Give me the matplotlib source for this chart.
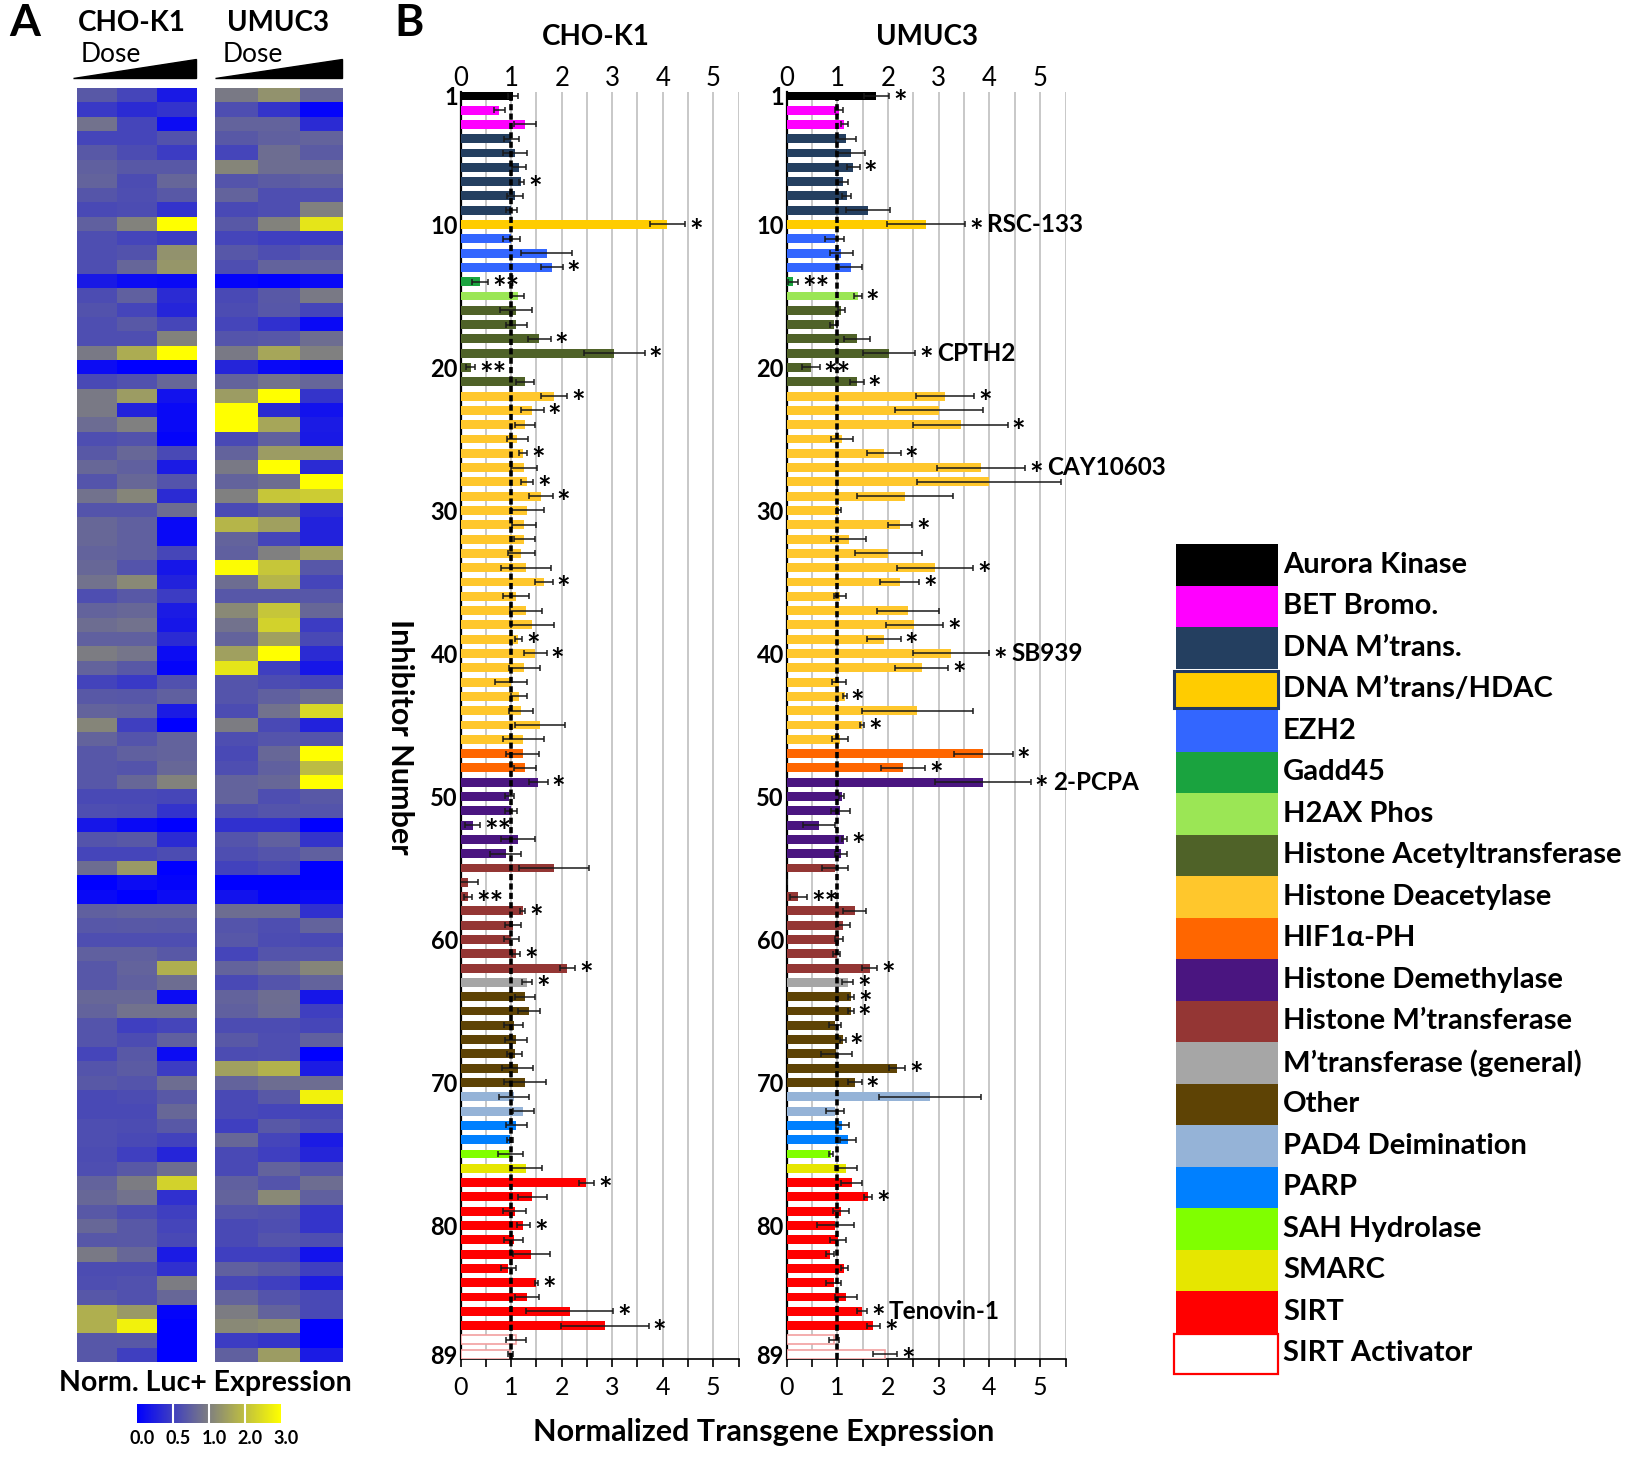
import matplotlib

matplotlib.use("Agg")
import matplotlib.pyplot as plt  # noqa: E402
import numpy as np  # noqa: E402
from matplotlib.colors import LinearSegmentedColormap, Normalize  # noqa: E402
from matplotlib.patches import Polygon, Rectangle  # noqa: E402

plt.rcParams["font.family"] = ["Lato", "DejaVu Sans"]

W, H = 1651, 1457

# ---- inhibitor classes (rows are grouped by class, in legend order) ----
class_names = ["Aurora Kinase", "BET Bromo.", "DNA M’trans.", "DNA M’trans/HDAC", "EZH2",
               "Gadd45", "H2AX Phos", "Histone Acetyltransferase", "Histone Deacetylase",
               "HIF1α-PH", "Histone Demethylase", "Histone M’transferase",
               "M’transferase (general)", "Other", "PAD4 Deimination", "PARP",
               "SAH Hydrolase", "SMARC", "SIRT", "SIRT Activator"]
class_counts = [1, 2, 6, 1, 3, 1, 1, 6, 25, 2, 6, 8, 1, 7, 2, 2, 1, 1, 11, 2]
class_colors = ["#000000", "#FF00FF", "#243F60", "#FFCC00", "#3366FF", "#1AA33F", "#9BE655",
                "#4F6228", "#FFC72C", "#FF6600", "#4A1580", "#943634", "#A6A6A6", "#5E4305",
                "#95B3D7", "#0080FF", "#80FF00", "#E6E600", "#FF0000", "#FFFFFF"]

# ---- panel B: normalized transgene expression (mean, error) ----
cho_mean = [1.04, 0.76, 1.27, 1.0, 1.07, 1.16, 1.2, 1.07, 1.0, 4.09,
            1.0, 1.7, 1.8, 0.38, 1.13, 1.09, 1.1, 1.56, 3.04, 0.2,
            1.27, 1.85, 1.42, 1.27, 1.12, 1.24, 1.26, 1.32, 1.59, 1.32,
            1.26, 1.26, 1.2, 1.29, 1.65, 1.09, 1.29, 1.42, 1.14, 1.48,
            1.26, 1.0, 1.15, 1.2, 1.57, 1.24, 1.23, 1.28, 1.54, 0.96,
            1.0, 0.24, 1.13, 0.89, 1.85, 0.15, 0.15, 1.23, 1.04, 1.0,
            1.1, 2.11, 1.32, 1.27, 1.35, 1.05, 1.1, 1.07, 1.13, 1.27,
            1.06, 1.24, 1.1, 0.98, 0.98, 1.3, 2.49, 1.42, 1.07, 1.24,
            1.05, 1.4, 0.94, 1.5, 1.32, 2.16, 2.85, 1.09, 0.98]
cho_err = [0.1, 0.11, 0.22, 0.15, 0.24, 0.14, 0.05, 0.16, 0.11, 0.35,
           0.17, 0.5, 0.22, 0.16, 0.13, 0.32, 0.21, 0.22, 0.6, 0.09,
           0.18, 0.26, 0.22, 0.2, 0.21, 0.08, 0.26, 0.12, 0.23, 0.32,
           0.24, 0.21, 0.27, 0.5, 0.17, 0.26, 0.31, 0.43, 0.07, 0.22,
           0.31, 0.32, 0.16, 0.24, 0.5, 0.4, 0.33, 0.22, 0.18, 0.09,
           0.12, 0.15, 0.34, 0.31, 0.7, 0.2, 0.08, 0.05, 0.16, 0.15,
           0.08, 0.15, 0.1, 0.2, 0.22, 0.19, 0.22, 0.15, 0.31, 0.42,
           0.3, 0.21, 0.21, 0.06, 0.25, 0.31, 0.15, 0.28, 0.23, 0.13,
           0.19, 0.36, 0.15, 0.03, 0.24, 0.86, 0.87, 0.2, 0.05]
umu_mean = [1.77, 1.03, 1.14, 1.17, 1.26, 1.31, 1.11, 1.18, 1.6, 2.75,
            0.95, 1.08, 1.26, 0.12, 1.4, 1.08, 0.93, 1.39, 2.02, 0.48,
            1.38, 3.13, 3.0, 3.43, 1.09, 1.92, 3.83, 4.0, 2.34, 1.03,
            2.23, 1.22, 2.0, 2.93, 2.23, 1.05, 2.4, 2.52, 1.92, 3.25,
            2.66, 1.03, 1.15, 2.58, 1.49, 1.05, 3.88, 2.3, 3.87, 1.09,
            1.06, 0.64, 1.14, 1.07, 0.95, 0.0, 0.23, 1.34, 1.11, 1.03,
            0.99, 1.64, 1.2, 1.27, 1.26, 0.95, 1.11, 0.98, 2.17, 1.34,
            2.83, 0.95, 1.1, 1.21, 0.88, 1.17, 1.28, 1.61, 1.07, 0.96,
            1.01, 0.86, 1.14, 0.93, 1.17, 1.48, 1.71, 0.93, 1.94]
umu_err = [0.25, 0.08, 0.06, 0.2, 0.29, 0.13, 0.09, 0.09, 0.44, 0.77,
           0.19, 0.23, 0.23, 0.1, 0.08, 0.07, 0.07, 0.26, 0.51, 0.17,
           0.14, 0.57, 0.87, 0.93, 0.22, 0.33, 0.87, 1.42, 0.95, 0.04,
           0.24, 0.34, 0.66, 0.75, 0.38, 0.12, 0.61, 0.57, 0.33, 0.75,
           0.53, 0.13, 0.03, 1.09, 0.04, 0.16, 0.58, 0.43, 0.94, 0.05,
           0.18, 0.31, 0.05, 0.12, 0.26, 0.0, 0.17, 0.23, 0.13, 0.08,
           0.07, 0.15, 0.11, 0.06, 0.06, 0.12, 0.05, 0.31, 0.16, 0.14,
           1.0, 0.18, 0.13, 0.16, 0.04, 0.21, 0.2, 0.08, 0.15, 0.37,
           0.15, 0.08, 0.07, 0.15, 0.21, 0.1, 0.13, 0.1, 0.24]

cho_sig = {7: "*", 10: "*", 13: "*", 14: "**", 18: "*", 19: "*", 20: "**", 22: "*", 23: "*",
           26: "*", 28: "*", 29: "*", 35: "*", 39: "*", 40: "*", 49: "*", 52: "**",
           57: "**", 58: "*", 61: "*", 62: "*", 63: "*", 77: "*", 80: "*", 84: "*", 86: "*",
           87: "*"}
umu_sig = {1: "*", 6: "*", 10: "*", 14: "**", 15: "*", 19: "*", 20: "**", 21: "*", 22: "*",
           24: "*", 26: "*", 27: "*", 31: "*", 34: "*", 35: "*", 38: "*", 39: "*", 40: "*",
           41: "*", 43: "*", 45: "*", 47: "*", 48: "*", 49: "*", 53: "*", 57: "**", 62: "*",
           63: "*", 64: "*", 65: "*", 67: "*", 69: "*", 70: "*", 78: "*", 86: "*", 87: "*",
           89: "*"}
umu_names = {10: "RSC-133", 19: "CPTH2", 27: "CAY10603", 40: "SB939", 49: "2-PCPA",
             86: "Tenovin-1"}

# ---- panel A: normalized Luc+ expression, 3 doses per cell line ----
cho_heat = [
    [0.70, 0.55, 0.20], [0.45, 0.35, 0.40], [0.90, 0.55, 0.10], [0.55, 0.55, 0.65],
    [0.70, 0.60, 0.48], [0.75, 0.70, 0.70], [0.78, 0.60, 0.80], [0.67, 0.62, 0.70],
    [0.58, 0.60, 0.40], [0.75, 1.05, 3.00], [0.62, 0.55, 0.47], [0.62, 0.65, 1.30],
    [0.62, 0.80, 1.35], [0.20, 0.10, 0.08], [0.60, 0.75, 0.35], [0.65, 0.55, 0.30],
    [0.62, 0.70, 0.56], [0.62, 0.62, 1.05], [0.95, 1.70, 3.00], [0.10, 0.00, 0.00],
    [0.58, 0.64, 0.82], [0.95, 1.45, 0.15], [0.95, 0.27, 0.08], [0.85, 1.00, 0.08],
    [0.62, 0.65, 0.04], [0.70, 0.82, 0.58], [0.82, 0.75, 0.22], [0.66, 0.82, 0.66],
    [0.90, 1.10, 0.35], [0.66, 0.66, 0.86], [0.82, 0.75, 0.08], [0.82, 0.75, 0.08],
    [0.78, 0.76, 0.56], [0.82, 0.66, 0.18], [0.90, 1.15, 0.27], [0.62, 0.70, 0.48],
    [0.78, 0.82, 0.22], [0.86, 0.90, 0.18], [0.75, 0.75, 0.35], [0.98, 0.92, 0.10],
    [0.78, 0.70, 0.04], [0.53, 0.45, 0.64], [0.70, 0.68, 0.76], [0.78, 0.75, 0.22],
    [1.10, 0.50, 0.00], [0.78, 0.66, 0.78], [0.68, 0.75, 0.78], [0.68, 0.66, 0.82],
    [0.68, 0.82, 1.05], [0.58, 0.58, 0.56], [0.62, 0.60, 0.40], [0.18, 0.08, 0.00],
    [0.66, 0.70, 0.35], [0.55, 0.55, 0.60], [0.86, 1.40, 0.00], [0.00, 0.10, 0.04],
    [0.08, 0.00, 0.10], [0.75, 0.78, 0.78], [0.68, 0.70, 0.68], [0.62, 0.62, 0.62],
    [0.75, 0.75, 0.70], [0.68, 0.78, 1.75], [0.68, 0.75, 0.86], [0.82, 0.82, 0.10],
    [0.78, 0.90, 0.90], [0.66, 0.50, 0.55], [0.66, 0.60, 0.75], [0.55, 0.70, 0.10],
    [0.66, 0.72, 0.48], [0.70, 0.66, 0.86], [0.58, 0.60, 0.70], [0.58, 0.58, 0.82],
    [0.62, 0.60, 0.70], [0.62, 0.58, 0.52], [0.60, 0.50, 0.30], [0.62, 0.70, 0.86],
    [0.78, 0.98, 2.30], [0.82, 0.90, 0.38], [0.70, 0.60, 0.50], [0.82, 0.70, 0.55],
    [0.68, 0.70, 0.58], [0.95, 0.82, 0.22], [0.60, 0.60, 0.38], [0.62, 0.64, 0.98],
    [0.68, 0.64, 0.82], [1.75, 1.40, 0.04], [1.75, 2.80, 0.00], [0.68, 0.70, 0.00],
    [0.68, 0.50, 0.00]]
umu_heat = [
    [0.95, 1.30, 0.82], [0.62, 0.42, 0.04], [0.78, 0.78, 0.35], [0.70, 0.75, 0.78],
    [0.55, 0.86, 0.72], [1.10, 0.86, 0.86], [0.66, 0.72, 0.75], [0.78, 0.62, 0.62],
    [0.58, 0.62, 1.00], [0.70, 1.05, 2.60], [0.55, 0.50, 0.47], [0.68, 0.62, 0.70],
    [0.62, 0.78, 0.78], [0.04, 0.00, 0.08], [0.58, 0.70, 0.95], [0.60, 0.68, 0.55],
    [0.55, 0.38, 0.08], [0.66, 0.68, 0.86], [0.95, 1.60, 1.00], [0.30, 0.08, 0.00],
    [0.78, 0.90, 0.80], [1.45, 3.00, 0.42], [3.00, 0.35, 0.15], [3.00, 1.60, 0.22],
    [0.58, 0.75, 0.20], [0.78, 1.45, 1.45], [0.95, 3.00, 0.35], [0.78, 0.86, 3.00],
    [1.00, 2.10, 2.20], [0.58, 0.70, 0.35], [1.85, 1.50, 0.27], [0.78, 0.55, 0.27],
    [0.75, 1.00, 1.50], [2.95, 2.10, 0.68], [0.86, 1.85, 0.55], [0.68, 0.68, 0.68],
    [1.15, 2.10, 0.82], [0.90, 2.30, 0.47], [0.78, 1.50, 0.58], [1.50, 3.00, 0.35],
    [2.60, 0.50, 0.18], [0.66, 0.60, 0.55], [0.66, 0.75, 0.86], [0.60, 0.90, 2.40],
    [0.98, 0.58, 0.27], [0.62, 0.66, 0.66], [0.58, 0.82, 3.00], [0.62, 0.75, 1.95],
    [0.78, 0.82, 3.00], [0.78, 0.62, 0.70], [0.62, 0.66, 0.66], [0.38, 0.38, 0.00],
    [0.66, 0.75, 0.42], [0.62, 0.66, 0.75], [0.52, 0.58, 0.00], [0.00, 0.00, 0.00],
    [0.15, 0.04, 0.08], [0.86, 0.86, 0.38], [0.66, 0.62, 0.78], [0.68, 0.60, 0.58],
    [0.55, 0.66, 0.66], [0.78, 0.86, 1.10], [0.58, 0.66, 0.78], [0.78, 0.86, 0.18],
    [0.75, 0.85, 0.50], [0.60, 0.60, 0.56], [0.70, 0.62, 0.75], [0.60, 0.62, 0.00],
    [1.50, 1.80, 0.22], [0.78, 0.86, 0.86], [0.58, 0.70, 2.80], [0.58, 0.55, 0.56],
    [0.50, 0.70, 0.62], [0.82, 0.55, 0.22], [0.58, 0.50, 0.30], [0.58, 0.78, 0.66],
    [0.75, 0.66, 0.86], [0.78, 1.15, 0.75], [0.66, 0.64, 0.42], [0.58, 0.62, 0.42],
    [0.58, 0.66, 0.62], [0.50, 0.50, 0.15], [0.75, 0.70, 0.50], [0.56, 0.50, 0.22],
    [0.78, 0.66, 0.58], [0.98, 0.78, 0.58], [1.15, 1.25, 0.00], [0.47, 0.42, 0.00],
    [0.75, 1.45, 0.22]]

cbar_ticks = [0.0, 0.5, 1.0, 2.0, 3.0]

luc_cmap = LinearSegmentedColormap.from_list(
    "luc", [(0.0, "#0000FF"), (1 / 3, "#808080"), (1.0, "#FFFF00")])
luc_norm = Normalize(0, 3)


def px_rect(x0, y0, x1, y1):
    """Pixel box (top-left origin) -> figure fraction rect."""
    return [x0 / W, 1 - y1 / H, (x1 - x0) / W, (y1 - y0) / H]


def draw_bars(ax, mean, err, sig, names=None):
    rows = np.arange(1, len(mean) + 1)
    cls = np.repeat(np.arange(len(class_names)), class_counts)
    face = [class_colors[c] for c in cls]
    edge = ["#F2A0A0" if class_names[c] == "SIRT Activator" else "none" for c in cls]
    mean = np.asarray(mean)
    err = np.asarray(err)
    ax.barh(rows, mean, height=0.62, color=face, edgecolor=edge, linewidth=1.2, zorder=3)
    ax.errorbar(mean, rows, xerr=err, fmt="none", ecolor="#1A1A1A", elinewidth=1.1,
                capsize=2.5, capthick=1.1, zorder=5)
    ax.axvline(1, color="black", lw=2.6, ls=(0, (1.7, 0.9)), zorder=6)
    for r, s in sig.items():
        ax.text(mean[r - 1] + err[r - 1] + 0.08, r + 0.6, s, ha="left", va="center",
                fontsize=23, fontweight="bold", zorder=7)
    for r, name in (names or {}).items():
        ax.text(mean[r - 1] + err[r - 1] + 0.44, r, name, ha="left", va="center",
                fontsize=17.5, fontweight="bold", zorder=7)

    ax.set_xlim(0, 5.5)
    ax.set_ylim(89.35, 0.7)
    ax.set_xticks(range(6))
    ax.set_xticks(np.arange(0.5, 5.6, 1.0), minor=True)
    ax.set_xticklabels([str(i) for i in range(6)], fontsize=18)
    ax.tick_params(axis="x", which="both", length=6, width=1.2, pad=6, top=False)
    ax.grid(axis="x", which="both", color="#BFBFBF", lw=1.2, zorder=0)
    ax.set_yticks([1, 10, 20, 30, 40, 50, 60, 70, 80, 89])
    ax.set_yticklabels(["1", "10", "20", "30", "40", "50", "60", "70", "80", "89"],
                       fontsize=17, fontweight="bold")
    ax.tick_params(axis="y", length=0, pad=2)
    for s in ("top", "right"):
        ax.spines[s].set_visible(False)
    ax.spines["left"].set_linewidth(1.6)
    ax.spines["bottom"].set_linewidth(1.2)
    ax.set_axisbelow(True)
    sec = ax.secondary_xaxis("top")
    sec.set_xticks(range(6))
    sec.set_xticklabels([str(i) for i in range(6)], fontsize=18.5)
    sec.tick_params(length=0, pad=0)
    sec.spines["top"].set_visible(False)


fig = plt.figure(figsize=(W / 100, H / 100), dpi=100)

# panel A heatmaps
for data, (x0, x1) in ((cho_heat, (77, 197)), (umu_heat, (215, 342))):
    hax = fig.add_axes(px_rect(x0, 88, x1, 1362))
    hax.imshow(np.asarray(data), cmap=luc_cmap, norm=luc_norm, aspect="auto",
               interpolation="nearest")
    hax.axis("off")

# colour bar (equal-width segments between the labelled values)
cax = fig.add_axes(px_rect(137, 1404, 281, 1423))
seg = np.linspace(0, len(cbar_ticks) - 1, 400)
cax.imshow(np.interp(seg, np.arange(len(cbar_ticks)), cbar_ticks)[None, :], cmap=luc_cmap,
           norm=luc_norm, aspect="auto", extent=[0, len(cbar_ticks) - 1, 0, 1])
for b in range(1, len(cbar_ticks) - 1):
    cax.axvline(b, color="white", lw=1.5)
cax.axis("off")

# panel B bar charts
ax_cho = fig.add_axes(px_rect(460.7, 91.5, 738.5, 1359.2))
draw_bars(ax_cho, cho_mean, cho_err, cho_sig)
ax_umu = fig.add_axes(px_rect(786.7, 91.5, 1065.5, 1359.2))
draw_bars(ax_umu, umu_mean, umu_err, umu_sig, umu_names)

# overlay in pixel coordinates for labels, wedges and legend
ov = fig.add_axes([0, 0, 1, 1])
ov.set_xlim(0, W)
ov.set_ylim(H, 0)
ov.axis("off")
ov.patch.set_alpha(0)

ov.text(25, 23, "A", fontsize=32, fontweight="bold", ha="center", va="center")
ov.text(409, 23, "B", fontsize=32, fontweight="bold", ha="center", va="center")
ov.text(132, 23, "CHO-K1", fontsize=20, fontweight="bold", ha="center", va="center")
ov.text(278, 23, "UMUC3", fontsize=20, fontweight="bold", ha="center", va="center")
for x_left, x_right in ((73, 196), (215, 342)):
    ov.text(x_left + 8, 55, "Dose", fontsize=19, ha="left", va="center")
    ov.add_patch(Polygon([(x_left, 78), (x_right, 78), (x_right, 59)], closed=True,
                         facecolor="black", edgecolor="black"))
ov.text(205, 1383, "Norm. Luc+ Expression", fontsize=20.5, fontweight="bold",
        ha="center", va="center")
for i, t in enumerate(cbar_ticks):
    ov.text(137 + 144 * i / (len(cbar_ticks) - 1) + 5, 1438, f"{t:.1f}", fontsize=13,
            fontweight="bold", ha="center", va="center")

ov.text(596, 37, "CHO-K1", fontsize=20, fontweight="bold", ha="center", va="center")
ov.text(927, 37, "UMUC3", fontsize=20, fontweight="bold", ha="center", va="center")
ov.text(400, 737, "Inhibitor Number", fontsize=22, fontweight="bold", rotation=270,
        ha="center", va="center")
ov.text(764, 1432, "Normalized Transgene Expression", fontsize=22, fontweight="bold",
        ha="center", va="center")

# legend
row_h = 41.5
for i, (name, col) in enumerate(zip(class_names, class_colors)):
    y0 = 544 + i * row_h
    if name == "DNA M’trans/HDAC":
        ov.add_patch(Rectangle((1174, y0 + 2), 104, row_h - 4, facecolor=col,
                               edgecolor="#1F3864", lw=2.2))
    elif name == "SIRT Activator":
        ov.add_patch(Rectangle((1174, y0 + 1), 104, row_h - 1, facecolor=col,
                               edgecolor="#FF0000", lw=1.6))
    else:
        ov.add_patch(Rectangle((1176, y0), 102, row_h, facecolor=col, edgecolor="none"))
    ov.text(1283, y0 + row_h / 2, name, fontsize=21, fontweight="bold",
            ha="left", va="center")

fig.savefig("out.png", dpi=100)
